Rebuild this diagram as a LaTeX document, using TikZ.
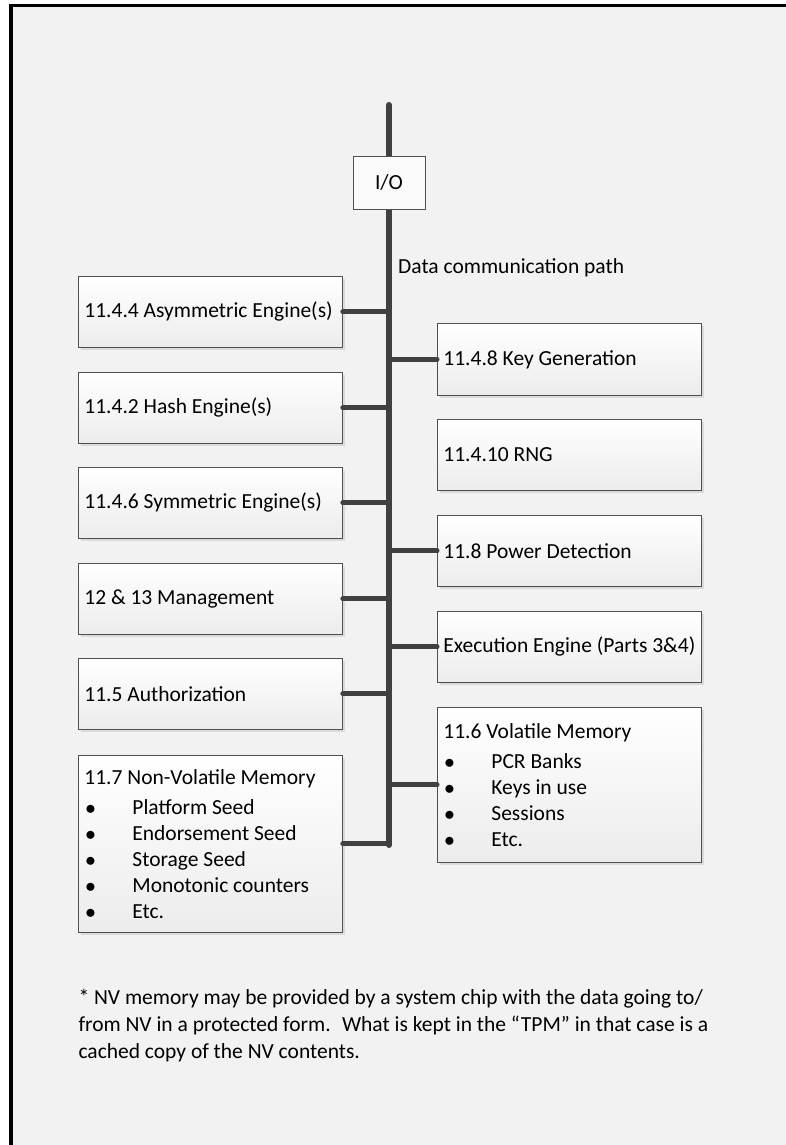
\documentclass[tikz,border=0pt]{standalone}
\usepackage{fontspec}
\setmainfont{Carlito}
\usetikzlibrary{shadows}
\definecolor{tpmback}{RGB}{242,242,242}
\definecolor{tpmline}{RGB}{64,64,64}
\definecolor{tpmedge}{RGB}{80,80,80}
\definecolor{tpmshade}{RGB}{236,236,236}
\definecolor{tpmshadow}{RGB}{218,218,218}
\newcommand{\memitem}[1]{\makebox[48pt][l]{\hspace{1pt}$\bullet$}#1}

\begin{document}
\begin{tikzpicture}[x=1pt, y=-1pt,
    font=\fontsize{21.5}{26}\selectfont,
    unitbox/.style={draw=tpmedge, line width=0.8pt, top color=white, bottom color=tpmshade,
        drop shadow={shadow xshift=3pt, shadow yshift=-3pt, fill=tpmshadow, opacity=1},
        anchor=north west, text width=252pt, inner xsep=6pt, minimum height=71pt, align=flush left},
    iobox/.style={draw=tpmedge, line width=0.8pt, fill=white!60!tpmback,
        minimum width=72pt, minimum height=53pt, inner sep=0pt},
    bus/.style={draw=tpmline, line width=6pt, line cap=round},
    link/.style={draw=tpmline, line width=5pt, line cap=round}]
    \useasboundingbox (0,0) rectangle (786,1145);
    \fill[white] (0,0) rectangle (786,1145);
    \fill[tpmback] (10,5) rectangle (786,1145);
    \draw[black, line width=3.5pt] (10.75,1145) -- (10.75,5.75) -- (786,5.75);

    % data bus
    \coordinate (bustop) at (389,105);
    \coordinate (busbot) at (389,845);
    \draw[bus] (bustop) -- (busbot);
    \node[iobox] (io) at (389,182.5) {I/O};
    \node[anchor=west, inner sep=0pt] (buslabel) at (398,268) {Data communication path};

    % left column
    \node[unitbox] (asym) at (78,276) {11.4.4 Asymmetric Engine(s)};
    \node[unitbox] (hash) at (78,372) {11.4.2 Hash Engine(s)};
    \node[unitbox] (sym) at (78,467) {11.4.6 Symmetric Engine(s)};
    \node[unitbox] (mgmt) at (78,563) {12 \& 13 Management};
    \node[unitbox] (auth) at (78,658) {11.5 Authorization};
    \node[unitbox, minimum height=177pt] (nvm) at (78,755) {
        11.7 Non-Volatile Memory \\[3.5pt]
        \memitem{Platform Seed} \\
        \memitem{Endorsement Seed} \\
        \memitem{Storage Seed} \\
        \memitem{Monotonic counters} \\
        \memitem{Etc.}
    };

    % right column
    \node[unitbox, minimum height=72pt] (keygen) at (437,323) {11.4.8 Key Generation};
    \node[unitbox] (rng) at (437,419) {11.4.10 RNG};
    \node[unitbox] (power) at (437,515) {11.8 Power Detection};
    \node[unitbox] (exec) at (437,611) {Execution Engine (Parts 3\&4)};
    \node[unitbox, minimum height=155pt] (vmem) at (437,707) {
        11.6 Volatile Memory \\[3.5pt]
        \memitem{PCR Banks} \\
        \memitem{Keys in use} \\
        \memitem{Sessions} \\
        \memitem{Etc.}
    };

    % connectors
    \draw[link] (asym.east) -- (asym.east -| bustop);
    \draw[link] (hash.east) -- (hash.east -| bustop);
    \draw[link] (sym.east) -- (sym.east -| bustop);
    \draw[link] (mgmt.east) -- (mgmt.east -| bustop);
    \draw[link] (auth.east) -- (auth.east -| bustop);
    \draw[link] (nvm.east) -- (nvm.east -| bustop);
    \draw[link] (keygen.west) -- (keygen.west -| bustop);
    \draw[link] (power.west) -- (power.west -| bustop);
    \draw[link] (exec.west) -- (exec.west -| bustop);
    \draw[link] (vmem.west) -- (vmem.west -| bustop);

    \node[anchor=north west, align=left, font=\fontsize{21.5}{27}\selectfont] (note) at (75,986) {
        * NV memory may be provided by a system chip with the data going to/ \\
        from NV in a protected form.~ What is kept in the ``TPM'' in that case is a \\
        cached copy of the NV contents.
    };
\end{tikzpicture}
\end{document}
